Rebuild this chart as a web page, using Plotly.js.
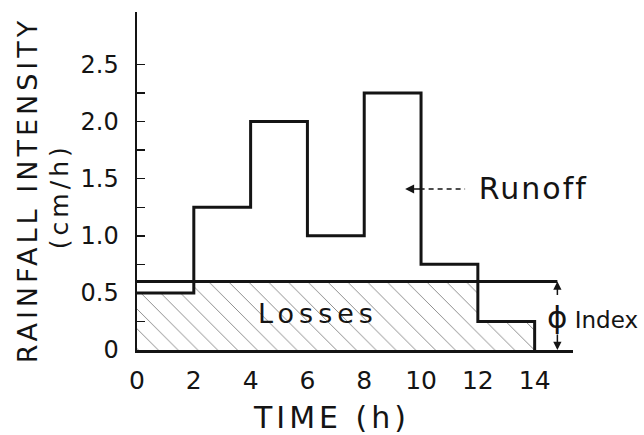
<!DOCTYPE html>
<html>
<head>
<meta charset="utf-8">
<script src="https://cdn.plot.ly/plotly-3.0.1.min.js"></script>
<style>
html,body{margin:0;padding:0;background:#fff;}
#chart{width:644px;height:435px;}
</style>
</head>
<body>
<div id="chart"></div>
<script>
// ---- data ----
const timeEdges = [0, 2, 4, 6, 8, 10, 12, 14];          // h
const intensity = [0.5, 1.25, 2.0, 1.0, 2.25, 0.75, 0.25]; // cm/h per 2-h block
const phiIndex = 0.6;                                    // cm/h
const phiLineEnd = 14.8;                                 // h
const xTickVals = [0, 2, 4, 6, 8, 10, 12, 14];
const xTickText = ['0', '2', '4', '6', '8', '10', '12', '14'];
const yTickVals = [0, 0.25, 0.5, 0.75, 1.0, 1.25, 1.5, 1.75, 2.0, 2.25, 2.5];
const yTickText = ['0', '', '0.5', '', '1.0', '', '1.5', '', '2.0', '', '2.5'];

// ---- build step hyetograph & losses polygon ----
const stepX = [], stepY = [];
const lossX = [timeEdges[0]], lossY = [0];
for (let i = 0; i < intensity.length; i++) {
  stepX.push(timeEdges[i], timeEdges[i + 1]);
  stepY.push(intensity[i], intensity[i]);
  const l = Math.min(intensity[i], phiIndex);
  lossX.push(timeEdges[i], timeEdges[i + 1]);
  lossY.push(l, l);
}
stepX.push(timeEdges[timeEdges.length - 1]); stepY.push(0);
lossX.push(timeEdges[timeEdges.length - 1]); lossY.push(0);

const ink = '#141414';
const FONT = 'DejaVu Sans';

const traces = [
  {
    x: lossX, y: lossY, type: 'scatter', mode: 'lines',
    fill: 'toself', line: {width: 0, color: 'rgba(0,0,0,0)'},
    fillcolor: 'rgba(0,0,0,0)',
    fillpattern: {shape: '\\', size: 14, solidity: 0.07, fgcolor: '#8c8c8c', bgcolor: '#ffffff'},
    hoverinfo: 'skip', showlegend: false
  },
  {
    x: [0, phiLineEnd], y: [phiIndex, phiIndex], type: 'scatter', mode: 'lines',
    line: {color: ink, width: 3}, showlegend: false, hoverinfo: 'skip'
  },
  {
    x: stepX, y: stepY, type: 'scatter', mode: 'lines',
    line: {color: ink, width: 3}, showlegend: false, hoverinfo: 'skip'
  }
];

const layout = {
  width: 644, height: 435,
  margin: {l: 137, r: 71, t: 12, b: 85},
  paper_bgcolor: '#ffffff', plot_bgcolor: '#ffffff',
  font: {family: FONT, color: ink},
  xaxis: {
    range: [0, 15.35], showgrid: false, zeroline: false,
    showline: true, linecolor: ink, linewidth: 2.5,
    tickmode: 'array', tickvals: xTickVals, ticktext: xTickText,
    ticks: '', tickfont: {size: 25, color: ink, family: FONT},
    ticklabelstandoff: 6
  },
  yaxis: {
    range: [0, 2.96], showgrid: false, zeroline: false,
    showline: true, linecolor: ink, linewidth: 2.5,
    tickmode: 'array', tickvals: yTickVals, ticktext: yTickText,
    ticks: 'inside', ticklen: 8, tickwidth: 1.5, tickcolor: ink,
    tickfont: {size: 24, color: ink, family: FONT},
    ticklabelstandoff: 11
  },
  shapes: [
    {type: 'line', xref: 'x', yref: 'y', x0: 9.95, x1: 11.55, y0: 1.41, y1: 1.41,
     line: {color: ink, width: 1.3, dash: '5px,4px'}}
  ],
  annotations: [
    {xref: 'paper', yref: 'paper', x: -0.252, y: 0.473, text: 'RAINFALL INTENSITY',
     textangle: -90, showarrow: false, xanchor: 'center', yanchor: 'middle',
     font: {size: 27, color: ink, family: FONT}},
    {xref: 'paper', yref: 'paper', x: -0.176, y: 0.456, text: '(cm/h)',
     textangle: -90, showarrow: false, xanchor: 'center', yanchor: 'middle',
     font: {size: 25, color: ink, family: FONT}},
    {xref: 'paper', yref: 'paper', x: 0.447, y: -0.201, text: 'TIME (h)',
     showarrow: false, xanchor: 'center', yanchor: 'middle',
     font: {size: 30, color: ink, family: FONT}},
    {xref: 'x', yref: 'y', x: 13.98, y: 1.41, text: 'Runoff',
     showarrow: false, xanchor: 'center', yanchor: 'middle',
     font: {size: 30, color: ink, family: FONT}},
    {xref: 'x', yref: 'y', x: 6.37, y: 0.32, text: 'Losses',
     showarrow: false, xanchor: 'center', yanchor: 'middle',
     font: {size: 27, color: ink, family: FONT}},
    {xref: 'x', yref: 'y', x: 14.36, y: 0.29, text: '<span style="font-size:31px">ϕ</span> Index',
     showarrow: false, xanchor: 'left', yanchor: 'middle',
     font: {size: 23, color: ink, family: FONT}},
    {xref: 'x', yref: 'y', x: 9.44, y: 1.41, ax: 18, ay: 0, text: '',
     showarrow: true, arrowhead: 2, arrowsize: 1.2, arrowwidth: 1.5, arrowcolor: ink},
    {xref: 'x', yref: 'y', x: phiLineEnd, y: phiIndex, ax: 0, ay: 15, text: '',
     showarrow: true, arrowhead: 2, arrowsize: 1.1, arrowwidth: 1.5, arrowcolor: ink},
    {xref: 'x', yref: 'y', x: phiLineEnd, y: 0, ax: 0, ay: -17, text: '',
     showarrow: true, arrowhead: 2, arrowsize: 1.1, arrowwidth: 1.5, arrowcolor: ink}
  ]
};

const spacing = {'RAINFALL INTENSITY': 4, '(cm/h)': 4, 'TIME (h)': 4, 'Runoff': 2, 'Losses': 5};

Plotly.newPlot('chart', traces, layout, {displayModeBar: false, staticPlot: true}).then(function () {
  document.querySelectorAll('.annotation-text').forEach(function (t) {
    const s = spacing[t.textContent];
    if (s) t.style.letterSpacing = s + 'px';
  });
});
</script>
</body>
</html>
